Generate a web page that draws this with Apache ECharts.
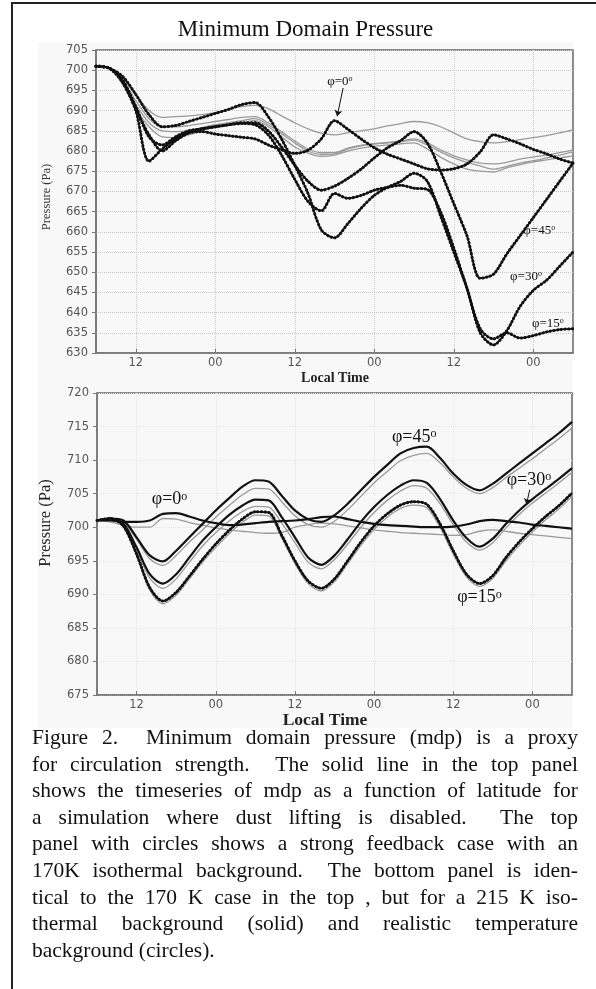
<!DOCTYPE html>
<html>
<head>
<meta charset="utf-8">
<script src="https://cdn.jsdelivr.net/npm/echarts@6/dist/echarts.min.js"></script>
<style>
html,body{margin:0;padding:0;background:#fff;}
#bg{position:absolute;left:38px;top:42px;width:535px;height:686px;background:#f8f8f8;}
#main{position:absolute;left:0;top:0;width:596px;height:989px;}
#frame{position:absolute;left:11px;top:2px;width:700px;height:1100px;border-left:2px solid #222;border-top:2px solid #222;}
#caption{position:absolute;left:32px;top:724px;width:546px;font-family:'Liberation Serif','Times New Roman',serif;font-size:21.5px;line-height:26.6px;color:#111;}
#caption div{text-align:justify;text-align-last:justify;}
#caption div.last{text-align:left;text-align-last:left;}
</style>
</head>
<body>
<div id="bg"></div>
<div id="main"></div>
<div id="frame"></div>
<div id="caption">
<div>Figure 2.&nbsp; Minimum domain pressure (mdp) is a proxy</div>
<div>for circulation strength.&nbsp; The solid line in the top panel</div>
<div>shows the timeseries of mdp as a function of latitude for</div>
<div>a simulation where dust lifting is disabled.&nbsp; The top</div>
<div>panel with circles shows a strong feedback case with an</div>
<div>170K isothermal background.&nbsp; The bottom panel is iden-</div>
<div>tical to the 170 K case in the top , but for a 215 K iso-</div>
<div>thermal background (solid) and realistic temperature</div>
<div class="last">background (circles).</div>
</div>
<script>
// 时间轴(小时, 从起点算), 每2小时一个点
var hours = [0,2,4,6,8,10,12,14,16,18,20,22,24,26,28,30,32,34,36,38,40,42,44,46,48,50,52,54,56,58,60,62,64,66,68,70,72];
var tickHours = [6,18,30,42,54,66];
var tickLabels = ['12','00','12','00','12','00'];

// 上图: 黑色带圆点 (强反馈, 170K)
var top45 = [701,700.5,697.5,691,683.5,681.5,683.5,685,685.5,686,686.5,687,687,685,681,676.5,672.5,670.3,671.3,673.2,675.5,678.3,680.8,682.6,684.8,682,675,667,659,648.5,649.5,654.5,659,663.5,668,672.5,677];
var top30 = [701,700.5,698.5,694,689,686,686.3,687.3,688.3,689.3,690.3,691.5,692,688.5,683,676.5,669.5,660.5,658.5,662,665.8,669,671,672.5,674.5,672.5,664,655,646,635,632,635.5,641.5,645.5,648,651.5,655];
var top15 = [701,700.5,697.5,690.5,684,680,682.5,684.5,685.5,686,686.5,686.8,686.5,684,679,673,667.5,665.2,669.5,668.3,669,670.3,671,671.5,670.8,670.5,665,656,646,636,633.5,635,633.7,634.3,635.2,635.8,636];
var top0 = [701,700.5,697,690,677.5,680.5,683,684.5,684.8,684.2,683.8,683.4,683,681.5,680.3,679.4,680.2,683,687.5,685.4,683,680.8,679.2,678,676.8,675.6,675.3,675.6,676.8,679.8,684,683,681.8,680.4,679.3,678,677];
// 上图: 灰色实线 (无起尘)
var topG1 = [701,700.5,698,694,690,688.3,688.5,688.7,689,689.5,690.3,691,691.3,690.5,688.7,687,685.5,684.4,684,684.5,685,685.5,686.2,686.8,687.3,687,686,684.5,683,682.3,682,682.3,682.8,683.3,683.8,684.5,685.2];
var topG2 = [701,700.5,697.5,692.5,688,686,686,686.3,686.8,687.3,687.8,688.3,688.5,687,684.8,682.5,680.5,679.6,679.6,680.7,681.4,681.8,682,682.3,682.7,681.5,679.8,678.3,677.2,676.3,675.5,676.2,677,677.6,678.3,679,679.8];
var topG3 = [701,700.5,697,691.5,687,685,684.8,685,685.8,686.5,687,687.5,688,686.5,684.3,682,680,679.2,679.3,680.5,681.3,681.8,682.1,682.5,683,682,680.3,678.8,677.8,677,676.8,677.2,678,678.5,679,679.6,680.3];
var topG4 = [701,700.5,696.5,690.5,686,683.5,683.3,684,685,686,686.5,687,687.5,686,683.5,681,679.5,678.7,679,680,680.7,681.2,681.5,681.8,682,680.5,678.5,676.8,675.5,675,674.8,675.8,676.6,677.3,677.8,678.3,678.8];

// 下图: 黑线 (215K) 与灰线
var bot45 = [701,701.3,701,698.5,695.8,694.9,696.5,698.5,700.5,702.5,704.3,706,707,706.8,704.7,702.5,701.2,700.8,701.8,703.5,705.5,707.5,709.3,711,711.8,712,710.3,708,706.3,705.5,706.5,708,709.5,711,712.5,714,715.7];
var botG45 = [701,701.2,700.7,698.2,695.3,694.3,695.8,697.8,699.6,701.5,703.2,704.8,705.8,705.7,703.8,701.7,700.4,700,700.9,702.6,704.6,706.6,708.3,709.9,710.7,711,709.6,707.5,705.8,705,705.9,707.4,708.8,710.2,711.7,713.2,714.8];
var bot30 = [701,701.3,700.5,697,693,691.6,693,695.5,698,700,701.8,703.2,704.1,704,701.5,698.5,695.5,694.4,695.8,698.2,700.8,703,704.8,706.2,707,706.6,704.2,701,698.4,697.1,698.3,700.5,702.5,704.2,705.7,707.2,708.8];
var botG30 = [701,701.2,700.3,696.6,692.4,690.9,692.3,694.8,697.2,699.2,700.9,702.3,703.1,703,700.6,697.7,694.8,693.8,695.2,697.5,700,702.2,704,705.4,706.2,705.8,703.5,700.4,697.8,696.6,697.7,699.9,701.9,703.6,705.1,706.6,708.2];
var bot15 = [701,701.3,700.2,696,691,689,690.3,692.7,695.2,697.5,699.5,701.2,702.3,702.2,698.8,695,692,690.9,692.3,695,697.8,700.2,702,703.3,703.8,703.4,700.5,696.5,693,691.6,692.8,695.5,697.8,699.8,701.6,703.2,705.1];
var botG15 = [701,701.2,700,695.8,690.6,688.6,689.9,692.3,694.8,697,699,700.7,701.8,701.7,698.4,694.6,691.6,690.5,691.9,694.6,697.3,699.7,701.5,702.8,703.3,702.9,700,696,692.6,691.2,692.4,695,697.3,699.3,701.1,702.7,704.6];
var bot0 = [701,701,700.8,700.8,701,702,702.1,701.6,701,700.6,700.3,700.4,700.6,700.8,700.9,701,701.2,701.5,701.6,701.2,700.8,700.5,700.3,700.2,700.1,700,700,700.1,700.4,700.9,701.1,700.9,700.7,700.4,700.2,700,699.8];
var botG0 = [701,700.8,700.3,700,700,701.3,701.2,700.7,700.3,699.9,699.6,699.4,699.2,699.1,699.2,700,700.4,700.6,700.5,700.2,699.9,699.6,699.4,699.2,699.1,699,698.9,698.8,698.9,699.4,699.6,699.4,699.1,698.9,698.7,698.5,698.3];

function pts(v){
  return hours.map(function(h,i){ return [h, v[i]]; });
}
function grayLine(v,g){
  return {type:'line', xAxisIndex:g, yAxisIndex:g, data:pts(v), showSymbol:false, smooth:0.3,
    lineStyle:{color:'#9a9a9a', width:1.3}, silent:true, z:2};
}
function blackLine(v,g,w){
  return {type:'line', xAxisIndex:g, yAxisIndex:g, data:pts(v), showSymbol:false, smooth:0.3,
    lineStyle:{color:'#111', width:w}, silent:true, z:3};
}
function beads(v,g){//圆点串
  return {type:'line', xAxisIndex:g, yAxisIndex:g, data:pts(v), showSymbol:false, smooth:0.3,
    lineStyle:{color:'#111', width:3, type:[0.5,3.2], cap:'round'}, silent:true, z:4};
}
function xAx(g){
  return {type:'value', gridIndex:g, min:0, max:72,
    axisLine:{show:true, onZero:false, lineStyle:{color:'#777', width:1.5}},
    axisTick:{show:true, inside:true, length:4, customValues:tickHours, lineStyle:{color:'#777'}},
    axisLabel:{customValues:tickHours, margin:4, color:'#555', fontFamily:'DejaVu Sans', fontSize:11.5,
      formatter:function(v){ return tickLabels[tickHours.indexOf(v)]; }},
    splitLine:{show:true, lineStyle:{type:'dotted', color:g ? '#e6e6e6' : '#c9c9c9'}}
  };
}
function yAx(g,min,max){
  return {type:'value', gridIndex:g, min:min, max:max, interval:5,
    axisLine:{show:true, lineStyle:{color:'#777', width:1.5}},
    axisTick:{show:true, length:4, lineStyle:{color:'#777'}},
    axisLabel:{margin:8, color:'#555', fontFamily:'DejaVu Sans', fontSize:11.5},
    splitLine:{show:true, lineStyle:{type:'dotted', color:g ? '#e6e6e6' : '#c9c9c9'}}
  };
}

var arrowStyle = {symbol:['none','arrow'], symbolSize:6, silent:true, label:{show:false},
  lineStyle:{color:'#111', width:1, type:'solid'}};

var s0 = blackLine(top0,0,1.5);
s0.markLine = Object.assign({data:[[{coord:[37.3,695.6]},{coord:[36.4,688.6]}]]}, arrowStyle);
var b30 = blackLine(bot30,1,2.2);
b30.markLine = Object.assign({data:[[{coord:[65.6,705.6]},{coord:[65.1,703.4]}]]}, arrowStyle);

var serif = "'Liberation Serif','Times New Roman',serif";

var myChart = echarts.init(document.getElementById('main'));
var option = {
  animation:false,
  backgroundColor:'transparent',
  grid:[
    {left:96, top:50, width:477, height:303, show:true, borderColor:'#666', borderWidth:1.5},
    {left:97, top:393, width:475, height:302, show:true, borderColor:'#666', borderWidth:1.5}
  ],
  xAxis:[xAx(0), xAx(1)],
  yAxis:[yAx(0,630,705), yAx(1,675,720)],
  series:[
    grayLine(topG1,0), grayLine(topG2,0), grayLine(topG3,0), grayLine(topG4,0),
    blackLine(top45,0,1.5), beads(top45,0),
    blackLine(top30,0,1.5), beads(top30,0),
    blackLine(top15,0,1.5), beads(top15,0),
    s0, beads(top0,0),
    grayLine(botG0,1), grayLine(botG45,1), grayLine(botG30,1), grayLine(botG15,1),
    blackLine(bot0,1,2.2), blackLine(bot45,1,2.2), b30,
    blackLine(bot15,1,1.8), beads(bot15,1)
  ]
};
myChart.setOption(option);

// 文字标注 (数据坐标 -> 像素)
var notes = [
  {g:0, h:36.8, p:697.3, t:'φ=0', fs:13, align:'center'},
  {g:0, h:64.5, p:660.4, t:'φ=45', fs:13, align:'left'},
  {g:0, h:62.5, p:648.9, t:'φ=30', fs:13, align:'left'},
  {g:0, h:65.8, p:637.3, t:'φ=15', fs:13, align:'left'},
  {g:1, h:8.3, p:704.1, t:'φ=0', fs:18, align:'left'},
  {g:1, h:44.7, p:713.4, t:'φ=45', fs:18, align:'left'},
  {g:1, h:62.1, p:707.0, t:'φ=30', fs:18, align:'left'},
  {g:1, h:54.6, p:689.5, t:'φ=15', fs:18, align:'left'}
];
var graphics = [
  {type:'text', x:305.5, y:30, style:{text:'Minimum Domain Pressure', font:'23px ' + serif, fill:'#111', align:'center', verticalAlign:'middle'}},
  {type:'text', x:47, y:197, rotation:Math.PI/2, style:{text:'Pressure (Pa)', font:'12.5px ' + serif, fill:'#333', align:'center', verticalAlign:'middle'}},
  {type:'text', x:46, y:523, rotation:Math.PI/2, style:{text:'Pressure (Pa)', font:'16.5px ' + serif, fill:'#222', align:'center', verticalAlign:'middle'}},
  {type:'text', x:335, y:378, style:{text:'Local Time', font:'bold 14px ' + serif, fill:'#222', align:'center', verticalAlign:'middle'}},
  {type:'text', x:325, y:720, style:{text:'Local Time', font:'bold 17.5px ' + serif, fill:'#222', align:'center', verticalAlign:'middle'}}
];
notes.forEach(function(n){
  var xy = myChart.convertToPixel({gridIndex:n.g}, [n.h, n.p]);
  graphics.push({type:'text', x:xy[0], y:xy[1], z:10, style:{
    text:'{a|' + n.t + '}{b|o}', align:n.align, verticalAlign:'middle', fill:'#111',
    rich:{a:{fontFamily:serif, fontSize:n.fs, fill:'#111'}, b:{fontFamily:serif, fontSize:Math.round(n.fs*0.65), fill:'#111', verticalAlign:'top'}}
  }});
});
myChart.setOption({graphic:graphics});
</script>
</body>
</html>
